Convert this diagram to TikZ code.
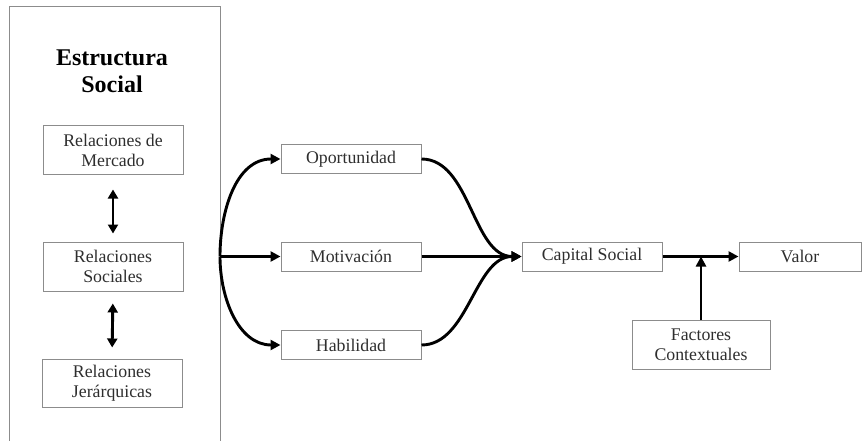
\documentclass[tikz,border=0pt]{standalone}
\usepackage{fontspec}
\setmainfont{Liberation Serif}
\usetikzlibrary{arrows.meta}
\definecolor{borde}{HTML}{8C8C8C}
\definecolor{texto}{HTML}{2E2E2E}

\begin{document}
\begin{tikzpicture}[x=1pt, y=-1pt,
            every node/.style={font=\fontsize{17.8}{20}\selectfont, text=texto},
            caja/.style={draw=borde, line width=1pt, align=center, inner sep=0pt,
                         minimum width=140pt, minimum height=29pt},
            flecha/.style={line width=2.9pt, -{Triangle[length=10pt, width=10pt]}},
            doble/.style={line width=2.9pt, {Triangle[length=9pt, width=10pt]}-{Triangle[length=9pt, width=10pt]}}]
        \useasboundingbox (0,0) rectangle (865,441);

        % Marco de la estructura social (abierto abajo)
        \draw[borde, line width=1pt] (9,441) -- (9,7) -- (220,7) -- (220,441);
        \node[font=\bfseries\fontsize{24}{27}\selectfont, text=black, align=center]
            (titulo) at (112,71) {Estructura\\Social};

        % Relaciones
        \node[caja, minimum height=49pt] (merc) at (113,150.5) {Relaciones de\\Mercado};
        \node[caja, minimum height=49pt] (soc) at (113,266.5) {Relaciones\\Sociales};
        \node[caja, minimum height=48pt] (jer) at (112,383) {Relaciones\\Jerárquicas};

        \draw[doble, shorten <=14pt, shorten >=8pt] (merc.south) -- (soc.north);
        \draw[doble, shorten <=12pt, shorten >=11pt] (soc.south) -- (jer.north);

        % Dimensiones
        \node[caja] (opo) at (351,159) {Oportunidad};
        \node[caja] (mot) at (351,256.5) {Motivación};
        \node[caja] (hab) at (351,345) {Habilidad};
        \node[caja] (cap) at (592,256.5) {Capital Social};
        \node[caja, minimum width=122pt] (valor) at (800,256.5) {Valor};
        \node[caja, minimum width=138pt, minimum height=49pt] (fac) at (701,344.5)
            {Factores\\Contextuales};

        \coordinate (rama) at (220,256.5);
        \coordinate (junta) at (fac.north |- cap.east);

        % Conectores
        \draw[flecha] (rama) to[out=90, in=180] (opo.west);
        \draw[flecha] (rama) -- (mot.west);
        \draw[flecha] (rama) to[out=-90, in=180] (hab.west);

        \draw[flecha] (opo.east) to[out=0, in=180, looseness=0.9] (cap.west);
        \draw[flecha] (mot.east) -- (cap.west);
        \draw[flecha] (hab.east) to[out=0, in=180, looseness=0.9] (cap.west);

        \draw[flecha] (cap.east) -- (valor.west);
        \draw[flecha] (fac.north) -- (junta);
    \end{tikzpicture}
\end{document}
